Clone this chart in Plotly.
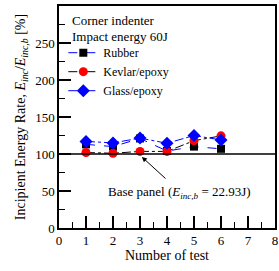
import plotly.graph_objects as go

tests = [1, 2, 3, 4, 5, 6]
rubber = [113, 110, 121, 104, 110, 107]
kevlar = [102, 101, 103.5, 103.5, 118, 124.5]
glass = [117, 115, 121.5, 114.5, 125, 119]
base_value = 100
FONT = "Liberation Serif, Times New Roman, serif"

fig = go.Figure()
fig.add_trace(go.Scatter(x=tests, y=rubber, name="Rubber", mode="lines+markers",
                         line=dict(color="blue", dash="dash", width=1),
                         marker=dict(symbol="square", color="black", size=8)))
fig.add_trace(go.Scatter(x=tests, y=kevlar, name="Kevlar/epoxy", mode="lines+markers",
                         line=dict(color="black", dash="dashdot", width=1),
                         marker=dict(symbol="circle", color="red", size=9)))
fig.add_trace(go.Scatter(x=tests, y=glass, name="Glass/epoxy", mode="lines+markers",
                         line=dict(color="blue", dash="dashdot", width=1),
                         marker=dict(symbol="diamond", color="blue", size=10)))

fig.add_shape(type="line", xref="paper", x0=0, x1=1, yref="y", y0=base_value, y1=base_value,
              line=dict(color="black", width=1.5))

fig.add_annotation(x=3.07, y=96, ax=4.0, ay=65, axref="x", ayref="y",
                   xref="x", yref="y", text="", showarrow=True, arrowhead=2,
                   arrowsize=1, arrowwidth=1, arrowcolor="black")
fig.add_annotation(x=1.74, y=48.6, xref="x", yref="y", xanchor="left", yanchor="middle",
                   text="Base panel (<i>E</i><sub><i>inc,b</i></sub> = 22.93J)",
                   showarrow=False, font=dict(family=FONT, size=13, color="black"))
fig.add_annotation(x=0.05, y=0.934, xref="paper", yref="paper", xanchor="left", yanchor="middle",
                   text="Corner indenter", showarrow=False,
                   font=dict(family=FONT, size=13, color="black"))
fig.add_annotation(x=0.05, y=0.862, xref="paper", yref="paper", xanchor="left", yanchor="middle",
                   text="Impact energy 60J", showarrow=False,
                   font=dict(family=FONT, size=13, color="black"))

fig.update_layout(
    width=279, height=271,
    margin=dict(l=59, r=4, t=6, b=43, autoexpand=False),
    paper_bgcolor="white", plot_bgcolor="white",
    font=dict(family=FONT, size=13, color="black"),
    showlegend=True,
    legend=dict(x=0.02, y=0.855, xanchor="left", yanchor="top", bgcolor="rgba(0,0,0,0)",
                font=dict(family=FONT, size=12), itemwidth=30, tracegroupgap=0),
    xaxis=dict(range=[0, 8], dtick=1, ticks="inside", ticklen=12, tickwidth=1.5,
               tickcolor="black", showline=True, linecolor="black", linewidth=1.5,
               mirror=True, showgrid=False, zeroline=False, automargin=False,
               minor=dict(dtick=0.5, ticks="inside", ticklen=6, tickwidth=1, tickcolor="black"),
               title=dict(text="Number of test", standoff=2, font=dict(size=14))),
    yaxis=dict(range=[0, 300], dtick=50, ticks="inside", ticklen=12, tickwidth=1.5,
               tickcolor="black", showline=True, linecolor="black", linewidth=1.5,
               mirror=True, showgrid=False, zeroline=False, automargin=False,
               minor=dict(dtick=25, ticks="inside", ticklen=6, tickwidth=1, tickcolor="black"),
               title=dict(text="Incipient Energy Rate, <i>E</i><sub><i>inc</i></sub>/<i>E</i><sub><i>inc,b</i></sub> [%]",
                          standoff=6, font=dict(size=14))),
)

fig.write_html("out.html", config={"displayModeBar": False},
               post_script="document.body.style.margin='0';document.body.style.overflow='hidden';")
